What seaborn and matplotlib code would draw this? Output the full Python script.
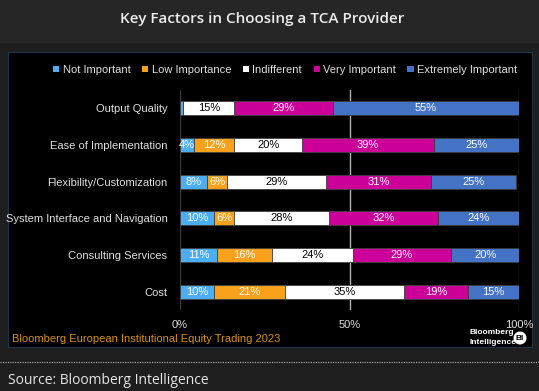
import matplotlib
matplotlib.use("Agg")
import matplotlib.pyplot as plt
from matplotlib.patches import Rectangle, Patch, Ellipse
from matplotlib.lines import Line2D
import seaborn as sns
import pandas as pd
import numpy as np

categories = ["Output Quality", "Ease of Implementation", "Flexibility/Customization",
              "System Interface and Navigation", "Consulting Services", "Cost"]
series = ["Not Important", "Low Importance", "Indifferent", "Very Important", "Extremely Important"]
not_important = [1, 4, 8, 10, 11, 10]
low_importance = [0, 12, 6, 6, 16, 21]
indifferent = [15, 20, 29, 28, 24, 35]
very_important = [29, 39, 31, 32, 29, 19]
extremely_important = [55, 25, 25, 24, 20, 15]
xticks = [0, 50, 100]
xtick_labels = ["0%", "50%", "100%"]

colors = ["#4BADF3", "#F9A11B", "#FFFFFF", "#CC0099", "#4472C4"]
text_colors = ["white", "white", "black", "white", "white"]

values = [not_important, low_importance, indifferent, very_important, extremely_important]

plt.rcParams["font.family"] = ["Liberation Sans", "DejaVu Sans"]

W, H = 539, 391
fig = plt.figure(figsize=(W / 100, H / 100), dpi=100)
fig.patch.set_facecolor("#1E1E1E")

def fx(px):
    return px / W

def fy(py):
    return 1 - py / H

# title band
fig.add_artist(Rectangle((0, fy(43)), 1, 43 / H, transform=fig.transFigure,
                         facecolor="#262626", edgecolor="none", zorder=0))
fig.text(fx(262), fy(19), "Key Factors in Choosing a TCA Provider", ha="center", va="center",
         color="#EDEDED", fontsize=11, family="Open Sans", fontweight="semibold")
# black panel
fig.add_artist(Rectangle((fx(8), fy(347)), fx(524), (347 - 52) / H, transform=fig.transFigure,
                         facecolor="black", edgecolor="#1F3346", linewidth=0.8, zorder=0))
# dotted separator
fig.add_artist(Line2D([0, 1], [fy(362), fy(362)], transform=fig.transFigure,
                      color="#BBBBBB", linestyle=(0, (1, 1.2)), linewidth=0.8))
fig.text(fx(8), fy(381), "Source: Bloomberg Intelligence", ha="left", va="center",
         color="#E6E6E6", fontsize=10, family="Open Sans")

ax = fig.add_axes([fx(180), fy(310), fx(519 - 180), (310 - 90) / H])
ax.set_facecolor("black")

cum = np.cumsum(np.array(values, dtype=float), axis=0)
starts = cum - np.array(values, dtype=float)

# draw from last series to first so earlier segments sit on top
for i in range(len(series) - 1, -1, -1):
    df = pd.DataFrame({"cat": categories, "end": cum[i]})
    sns.barplot(data=df, y="cat", x="end", orient="h", color=colors[i], ax=ax,
                width=0.39, edgecolor="#3A3A3A", linewidth=0.6, saturation=1, zorder=3)

for i in range(len(series)):
    for j, c in enumerate(categories):
        v = values[i][j]
        if v >= 3:
            ax.text(starts[i][j] + v / 2, j, f"{v}%", ha="center", va="center",
                    color=text_colors[i], fontsize=8, zorder=5)

ax.set_xlim(0, 100)
ax.set_ylim(len(categories) - 0.5, -0.5)
ax.set_xticks(xticks)
ax.set_xticklabels(xtick_labels)
ax.tick_params(axis="x", length=0, pad=7, colors="#E0E0E0", labelsize=8)
ax.tick_params(axis="y", length=0, pad=9, colors="#E0E0E0", labelsize=8)
ax.set_xlabel("")
ax.set_ylabel("")
for s in ax.spines.values():
    s.set_visible(False)
ax.axvline(0, color="#3A3A3A", linewidth=1, zorder=1)
ax.axvline(50, color="#B0B0B0", linewidth=1, zorder=1)
ax.axvline(100, color="#3A3A3A", linewidth=1, zorder=1)

handles = [Patch(facecolor=colors[i], edgecolor="none", label=series[i]) for i in range(len(series))]
leg = fig.legend(handles=handles, loc="center right", bbox_to_anchor=(fx(527), fy(70)),
                 ncol=5, frameon=False, fontsize=8, handlelength=0.55, handleheight=0.55,
                 handletextpad=0.3, columnspacing=1.05)
for t in leg.get_texts():
    t.set_color("#E0E0E0")

fig.text(fx(12), fy(339), "Bloomberg European Institutional Equity Trading 2023", ha="left",
         va="center", color="#D98E17", fontsize=8)
fig.text(fx(469), fy(333), "Bloomberg", ha="left", va="center", color="white", fontsize=6,
         fontweight="bold")
fig.text(fx(469), fy(342), "Intelligence", ha="left", va="center", color="white", fontsize=6,
         fontweight="bold")
fig.add_artist(Ellipse((fx(520), fy(338)), 13 / W, 13 / H, transform=fig.transFigure,
                       facecolor="white", edgecolor="none"))
fig.text(fx(520), fy(338), "BI", ha="center", va="center", color="black", fontsize=6,
         fontweight="bold")

fig.savefig("out.png", dpi=100, facecolor=fig.get_facecolor())
